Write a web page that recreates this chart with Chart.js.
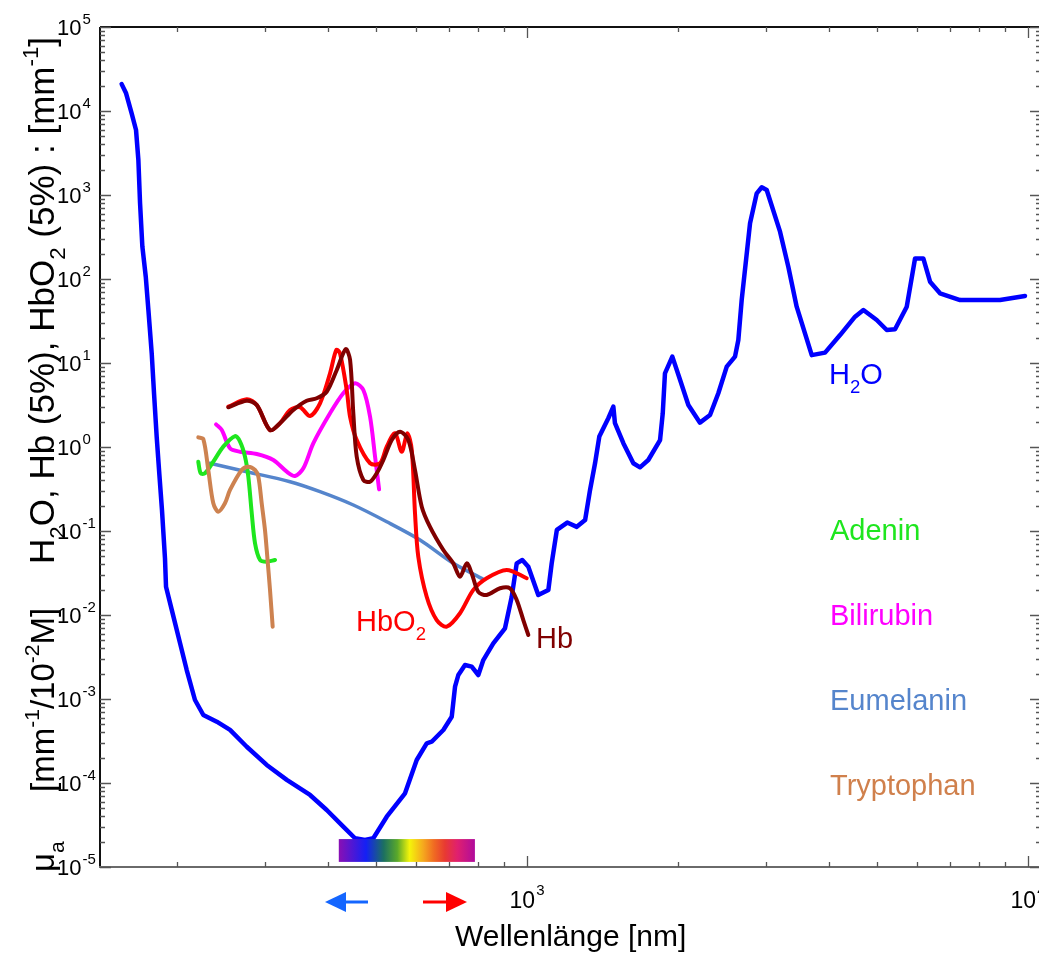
<!DOCTYPE html>
<html><head><meta charset="utf-8">
<script src="https://cdn.jsdelivr.net/npm/chart.js@4.4.0/dist/chart.umd.min.js"></script>
<style>
html,body{margin:0;padding:0;background:#fff;overflow:hidden;}
#wrap{position:absolute;left:0;top:0;width:1045px;height:953px;}
</style></head><body>
<div id="wrap"><canvas id="c"></canvas></div>
<script>
// ---------- data (wavelength in nm, absorption) ----------
const waterWl = [155.2,158.4,162.5,165.8,167.6,168.9,170.7,173.4,175.5,178.2,
  180.1,182.3,184.5,186.8,189.4,190.3,195.4,203.0,209.3,217.4,
  225.9,240.3,255.4,275.8,302.3,331.5,368.9,398.3,429.8,453.6,
  474.9,493.4,524.8,570.8,602.3,630.6,645.3,680.7,707.5,718.3,
  729.3,752.0,775.5,799.4,818.0,856.4,903.7,932.1,953.7,978.6,
  1006,1053,1103,1120,1147,1203,1257,1306,1336,1367,
  1394,1453,1487,1498,1557,1630,1681,1746,1843,1866,
  1885,1950,2021,2099,2214,2319,2409,2504,2601,2641,
  2682,2787,2874,2941,3009,3199,3323,3453,3701,3934,
  4215,4516,4692,4989,5224,5427,5727,5950,6180,6374,
  6673,7317,8793,9862];
const waterMu = [20900,16250,9390,5940,2610,797,243,106,42.8,13.0,
  4.36,1.33,0.486,0.178,0.0473,0.0217,0.0115,0.0046,0.00221,0.000973,
  6.45e-4,5.37e-4,4.28e-4,2.70e-4,1.64e-4,1.09e-4,7.2e-5,4.77e-5,3.02e-5,2.20e-5,
  2.10e-5,2.20e-5,3.97e-5,7.54e-5,1.88e-4,2.97e-4,3.10e-4,4.28e-4,6.16e-4,1.40e-3,
  1.93e-3,2.54e-3,2.43e-3,1.93e-3,2.91e-3,4.6e-3,6.95e-3,0.0165,0.0412,0.0452,
  0.0376,0.0173,0.0199,0.0412,0.103,0.126,0.112,0.135,0.308,0.640,
  1.33,2.20,3.02,1.92,1.11,0.640,0.573,0.700,1.21,2.52,
  7.54,11.9,6.28,3.16,1.95,2.40,4.36,9.04,11.9,18.8,
  56.2,460,1047,1235,1148,366,140,46.8,12.4,13.3,
  21.5,35.6,42.8,32.5,24.7,25.2,46.8,176,176,92.9,
  67.6,56.2,56.2,62.8];

const hbO2Wl = [253.4,275.8,288.8,306.9,321.4,336.5,352.4,368.9,386.2,404.4,
  416.3,423.4,436.6,443.4,457.2,486.1,509.0,524.8,545.1,562.2,
  576.9,588.8,597.6,606.7,630.6,660.3,691.5,734.9,781.3,830.8,
  910.8,998.6];
const hbO2Mu = [3.02,3.70,3.16,1.59,1.92,2.76,2.97,2.34,3.31,7.54,
  14.3,13.0,4.77,2.29,1.21,0.640,0.640,1.01,1.46,0.879,
  1.46,0.921,0.163,0.0494,0.0165,0.0087,0.00726,0.0105,0.0199,0.0274,
  0.0344,0.0274];

const hbWl = [253.4,275.8,288.8,306.9,321.4,341.6,363.3,380.4,398.3,417.1,
  434.6,443.4,450.1,457.2,471.3,486.1,501.2,516.7,537.0,557.8,
  579.6,597.6,616.4,640.3,680.7,712.7,734.9,758.0,775.5,799.4,
  830.8,883.3,924.8,953.7,983.1,1006];
const hbMu = [2.97,3.56,3.16,1.59,1.92,2.76,3.56,3.80,4.55,8.26,
  14.6,10.9,2.52,0.767,0.405,0.386,0.486,0.700,1.21,1.52,
  1.21,0.532,0.195,0.112,0.0594,0.0412,0.0286,0.0412,0.0313,0.0189,
  0.0173,0.0208,0.0208,0.0151,0.0087,0.00578];

const biliWl = [239.5,245.9,255.4,267.4,288.8,311.6,331.5,344.3,357.7,374.6,
  404.4,429.8,453.6,471.3,486.1,497.4,506.7];
const biliMu = [1.86,1.59,0.966,0.879,0.826,0.700,0.508,0.452,0.557,1.11,
  2.52,4.36,5.73,4.77,2.29,0.767,0.313];

const adeninWl = [220.7,223.2,227.6,236.5,247.6,261.4,267.4,273.6,277.8,282.2,
  286.5,293.2,302.3,314.1];
const adeninMu = [0.668,0.486,0.486,0.668,1.01,1.35,1.16,0.767,0.443,0.163,
  0.0714,0.0452,0.0431,0.0452];

const tryptoWl = [220.7,225.9,231.1,236.5,242.0,249.5,255.4,269.5,277.8,286.5,
  290.9,295.4,299.9,303.1,306.9,310.7];
const tryptoMu = [1.30,1.24,0.532,0.214,0.170,0.214,0.308,0.532,0.582,0.532,
  0.443,0.214,0.103,0.0494,0.0199,0.00726];

const eumelWl = [232.9,275.8,336.5,386.2,450.1,524.8,611.6,712.7,818.0];
const eumelMu = [0.640,0.508,0.386,0.294,0.204,0.129,0.0782,0.0412,0.0266];

const xTickExps = [3, 4];
const yTickExps = [5,4,3,2,1,0,-1,-2,-3,-4,-5];
const spectrumWl = [421, 787];
const spectrumMu = [1.15e-5, 2.15e-5];

// ---------- helpers ----------
const FONT = '"Liberation Sans", Arial, sans-serif';
function pts(xs, ys){ return xs.map((x,i)=>({x:x, y:ys[i]})); }
function drawRich(ctx, segs, x, y, size){
  let cx = x;
  for(const [t,k] of segs){
    const s = k? size*0.64 : size;
    ctx.font = s+'px '+FONT;
    const dy = k===1 ? size*0.30 : (k===2 ? -size*0.45 : 0);
    ctx.fillText(t, cx, y+dy);
    cx += ctx.measureText(t).width;
  }
  return cx - x;
}

const decor = {
  id:'decor',
  afterDatasetsDraw(chart){
    const ctx = chart.ctx, xs = chart.scales.x, ys = chart.scales.y;
    const x0 = xs.getPixelForValue(spectrumWl[0]), x1 = xs.getPixelForValue(spectrumWl[1]);
    const yTop = ys.getPixelForValue(spectrumMu[1]), yBot = ys.getPixelForValue(spectrumMu[0]);
    const g = ctx.createLinearGradient(x0,0,x1,0);
    g.addColorStop(0.00,'#8a0fb4');
    g.addColorStop(0.20,'#1420f5');
    g.addColorStop(0.33,'#1c7060');
    g.addColorStop(0.43,'#5aa82a');
    g.addColorStop(0.52,'#f4f40a');
    g.addColorStop(0.62,'#f5a81e');
    g.addColorStop(0.70,'#f06a22');
    g.addColorStop(0.78,'#e83a32');
    g.addColorStop(0.87,'#e0206e');
    g.addColorStop(1.00,'#b00c9c');
    ctx.save(); ctx.fillStyle = g; ctx.fillRect(x0, yTop, x1-x0, yBot-yTop); ctx.restore();
  },
  afterDraw(chart){
    const ctx = chart.ctx, xs = chart.scales.x, ys = chart.scales.y, a = chart.chartArea;
    ctx.save();
    ctx.lineWidth = 2;
    ctx.strokeStyle = '#111';
    ctx.beginPath(); ctx.moveTo(a.left, a.top); ctx.lineTo(a.right, a.top); ctx.stroke();
    ctx.beginPath(); ctx.moveTo(a.left, a.top); ctx.lineTo(a.left, a.bottom); ctx.stroke();
    ctx.beginPath(); ctx.moveTo(a.right, a.top); ctx.lineTo(a.right, a.bottom); ctx.stroke();
    ctx.strokeStyle = '#6a6a6a';
    ctx.beginPath(); ctx.moveTo(a.left-1, a.bottom); ctx.lineTo(a.right, a.bottom); ctx.stroke();
    ctx.lineWidth = 1.3; ctx.strokeStyle = '#555';
    for(let d=2; d<=4; d++) for(let m=1; m<=9; m++){
      const v = m*Math.pow(10,d); if(v<xs.min||v>xs.max) continue;
      const px = Math.round(xs.getPixelForValue(v))+0.5, L = m===1?11:5;
      ctx.beginPath(); ctx.moveTo(px,a.bottom); ctx.lineTo(px,a.bottom-L);
      ctx.moveTo(px,a.top); ctx.lineTo(px,a.top+L); ctx.stroke();
    }
    for(let d=-5; d<=5; d++) for(let m=1; m<=9; m++){
      const v = m*Math.pow(10,d); if(v<ys.min*0.999||v>ys.max*1.001) continue;
      const py = Math.round(ys.getPixelForValue(v))+0.5, L = m===1?11:5;
      ctx.beginPath(); ctx.moveTo(a.left,py); ctx.lineTo(a.left+L,py);
      ctx.moveTo(a.right,py); ctx.lineTo(a.right-L,py); ctx.stroke();
    }
    // tick labels
    ctx.fillStyle = '#000'; ctx.textBaseline = 'alphabetic'; ctx.textAlign = 'left';
    for(const e of yTickExps){
      const py = ys.getPixelForValue(Math.pow(10,e));
      ctx.font = '22px '+FONT; ctx.fillText('10', 57, py+8);
      const w = ctx.measureText('10').width;
      ctx.font = '15px '+FONT; ctx.fillText(String(e), 57+w+1, py-3);
    }
    for(const e of xTickExps){
      const px = xs.getPixelForValue(Math.pow(10,e));
      ctx.font = '23px '+FONT; const w = ctx.measureText('10').width;
      ctx.font = '15px '+FONT; const w2 = ctx.measureText(String(e)).width;
      const x0 = px - (w+1+w2)/2;
      ctx.font = '23px '+FONT; ctx.fillText('10', x0, 908);
      ctx.font = '15px '+FONT; ctx.fillText(String(e), x0+w+1, 895);
    }
    // axis titles
    ctx.font = '30px '+FONT; ctx.fillStyle = '#000';
    ctx.fillText('Wellenlänge [nm]', 455, 946);
    ctx.save();
    ctx.translate(54, 872); ctx.rotate(-Math.PI/2);
    drawRich(ctx, [['μ',0],['a',1]], 0, 0, 33);
    drawRich(ctx, [['[mm',0],['-1',2],['/10',0],['-2',2],['M]',0]], 80, 0, 33);
    drawRich(ctx, [['H',0],['2',1],['O, Hb (5%), HbO',0],['2',1],[' (5%) : [mm',0],['-1',2],[']',0]], 308, 0, 35);
    ctx.restore();
    // series labels
    const lab = (segs, color, x, y) => { ctx.fillStyle = color; drawRich(ctx, segs, x, y, 29); };
    lab([['H',0],['2',1],['O',0]], '#0000ff', 829, 384);
    lab([['Adenin',0]], '#1ee61e', 830, 540);
    lab([['Bilirubin',0]], '#ff00ff', 830, 625);
    lab([['Eumelanin',0]], '#5585cc', 830, 710);
    lab([['Tryptophan',0]], '#d0804c', 830, 795);
    lab([['HbO',0],['2',1]], '#ff0000', 356, 631);
    lab([['Hb',0]], '#800000', 536, 648);
    const arrow = (xTail, xTip, y, color) => {
      const dir = Math.sign(xTip - xTail), hl = 21, hw = 10;
      ctx.strokeStyle = color; ctx.fillStyle = color; ctx.lineWidth = 3;
      ctx.beginPath(); ctx.moveTo(xTail, y); ctx.lineTo(xTip - dir*hl, y); ctx.stroke();
      ctx.beginPath(); ctx.moveTo(xTip, y); ctx.lineTo(xTip - dir*hl, y-hw); ctx.lineTo(xTip - dir*hl, y+hw); ctx.closePath(); ctx.fill();
    };
    arrow(368, 325, 902, '#1466ff');
    arrow(423, 467, 902, '#ff0000');
    ctx.restore();
  }
};

const mk = (label, xs, ys, color, w, order, tension) => ({
  label, data: pts(xs, ys), borderColor: color, backgroundColor: color,
  borderWidth: w, pointRadius: 0, fill: false, tension: tension, order: order,
  borderCapStyle: 'round', borderJoinStyle: 'round'
});

new Chart(document.getElementById('c'), {
  type: 'line',
  data: { datasets: [
    mk('Hb', hbWl, hbMu, '#800000', 4, 0, 0.3),
    mk('HbO2', hbO2Wl, hbO2Mu, '#ff0000', 4, 1, 0.3),
    mk('Tryptophan', tryptoWl, tryptoMu, '#cd8250', 4, 2, 0.3),
    mk('Adenin', adeninWl, adeninMu, '#1ee61e', 4, 3, 0.3),
    mk('Bilirubin', biliWl, biliMu, '#ff00ff', 4, 4, 0.3),
    mk('Eumelanin', eumelWl, eumelMu, '#5585cc', 3.5, 5, 0.3),
    mk('H2O', waterWl, waterMu, '#0000ff', 4.5, 6, 0)
  ]},
  options: {
    responsive: true, maintainAspectRatio: false, animation: false,
    layout: { padding: { left: 100, right: 4, top: 27, bottom: 86 } },
    plugins: { legend: { display: false }, tooltip: { enabled: false } },
    scales: {
      x: { type: 'logarithmic', min: 140.5, max: 10614, display: false },
      y: { type: 'logarithmic', min: 1e-5, max: 1e5, display: false }
    }
  },
  plugins: [decor]
});
</script>
</body></html>
